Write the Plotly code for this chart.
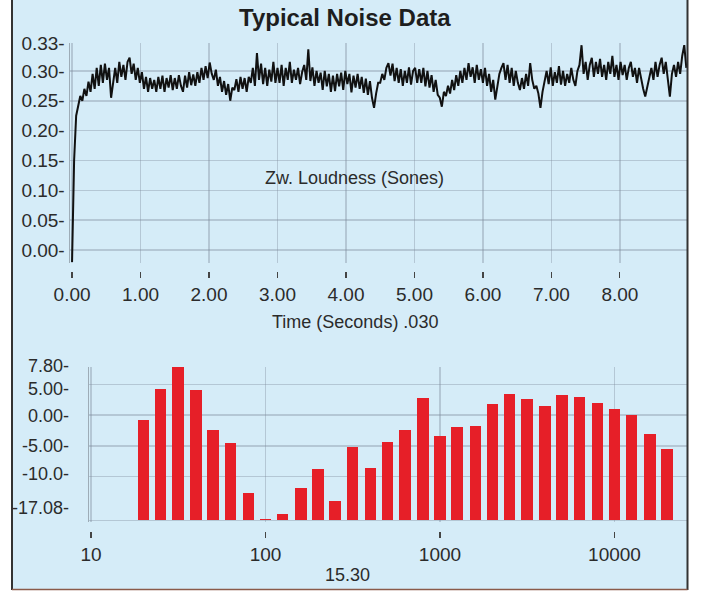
import numpy as np
import plotly.graph_objects as go

W, H = 703, 591

# ---------------- text ----------------
title_text = "Typical Noise Data"
top_inner_label = "Zw. Loudness (Sones)"
top_x_title = "Time (Seconds) .030"
bottom_x_title = "15.30"

# ---------------- top chart data (loudness in sones, one sample every .030 s) ----------------
sample_interval = 0.030
loudness = [
    -0.02, 0.15, 0.225, 0.24, 0.258, 0.25, 0.27, 0.258, 0.282, 0.265,
    0.295, 0.27, 0.305, 0.275, 0.31, 0.28, 0.312, 0.285, 0.305, 0.255,
    0.285, 0.305, 0.28, 0.315, 0.29, 0.31, 0.285, 0.315, 0.322, 0.295,
    0.312, 0.285, 0.305, 0.28, 0.298, 0.27, 0.29, 0.265, 0.288, 0.27,
    0.285, 0.265, 0.29, 0.27, 0.292, 0.265, 0.288, 0.272, 0.293, 0.268,
    0.288, 0.27, 0.293, 0.275, 0.265, 0.292, 0.272, 0.298, 0.276, 0.294,
    0.275, 0.298, 0.28, 0.305, 0.285, 0.308, 0.288, 0.314, 0.295, 0.285,
    0.302, 0.275, 0.29, 0.265, 0.283, 0.26, 0.278, 0.25, 0.272, 0.268,
    0.286, 0.265, 0.29, 0.27, 0.288, 0.265, 0.29, 0.28, 0.305, 0.275,
    0.33, 0.285, 0.312, 0.278, 0.305, 0.275, 0.302, 0.282, 0.315, 0.28,
    0.305, 0.28, 0.31, 0.275, 0.305, 0.285, 0.315, 0.28, 0.302, 0.285,
    0.305, 0.278, 0.298, 0.31, 0.285, 0.336, 0.283, 0.306, 0.275, 0.30,
    0.28, 0.297, 0.268, 0.30, 0.274, 0.295, 0.265, 0.292, 0.266, 0.295,
    0.274, 0.297, 0.268, 0.30, 0.278, 0.295, 0.264, 0.292, 0.272, 0.295,
    0.27, 0.29, 0.263, 0.287, 0.26, 0.283, 0.255, 0.238, 0.262, 0.28,
    0.28, 0.295, 0.285, 0.305, 0.313, 0.292, 0.312, 0.283, 0.305, 0.28,
    0.303, 0.275, 0.30, 0.28, 0.306, 0.277, 0.30, 0.305, 0.28, 0.303,
    0.28, 0.305, 0.274, 0.30, 0.272, 0.293, 0.265, 0.285, 0.26, 0.255,
    0.24, 0.265, 0.258, 0.275, 0.262, 0.285, 0.268, 0.293, 0.275, 0.30,
    0.28, 0.305, 0.285, 0.313, 0.29, 0.306, 0.28, 0.31, 0.285, 0.303,
    0.28, 0.305, 0.275, 0.295, 0.265, 0.285, 0.252, 0.275, 0.295, 0.305,
    0.313, 0.285, 0.31, 0.28, 0.305, 0.275, 0.30, 0.28, 0.268, 0.288,
    0.27, 0.295, 0.275, 0.313, 0.285, 0.27, 0.275, 0.262, 0.238, 0.265,
    0.285, 0.30, 0.278, 0.306, 0.275, 0.298, 0.28, 0.308, 0.277, 0.30,
    0.275, 0.295, 0.28, 0.305, 0.285, 0.275, 0.30, 0.31, 0.343, 0.295,
    0.315, 0.285, 0.31, 0.322, 0.29, 0.315, 0.295, 0.32, 0.29, 0.31,
    0.285, 0.315, 0.295, 0.325, 0.29, 0.31, 0.285, 0.315, 0.293, 0.31,
    0.285, 0.305, 0.315, 0.29, 0.305, 0.28, 0.305, 0.285, 0.27, 0.257,
    0.275, 0.29, 0.305, 0.285, 0.315, 0.29, 0.31, 0.322, 0.295, 0.315,
    0.28, 0.257, 0.295, 0.31, 0.29, 0.315, 0.295, 0.325, 0.343, 0.305,
]
time_s = np.arange(len(loudness)) * sample_interval

top_x_ticks = [0, 1, 2, 3, 4, 5, 6, 7, 8]
top_x_ticktext = ["0.00", "1.00", "2.00", "3.00", "4.00", "5.00", "6.00", "7.00", "8.00"]
top_y_ticks = [0.00, 0.05, 0.10, 0.15, 0.20, 0.25, 0.30]
top_y_ticktext = ["0.00-", "0.05-", "0.10-", "0.15-", "0.20-", "0.25-", "0.30-"]
top_y_max_label = "0.33-"

# ---------------- bottom chart data (1/3-octave band levels) ----------------
band_freqs = [20, 25, 31.5, 40, 50, 63, 80, 100, 125, 160, 200, 250, 315, 400, 500,
              630, 800, 1000, 1250, 1600, 2000, 2500, 3150, 4000, 5000, 6300, 8000,
              10000, 12500, 16000, 20000]
band_levels = [-0.82, 4.27, 7.80, 4.06, -2.44, -4.51, -12.64, -16.80, -16.10, -11.76,
               -8.83, -13.94, -5.26, -8.67, -4.35, -2.44, 2.81, -3.42, -1.91, -1.74,
               1.73, 3.41, 2.60, 1.51, 3.25, 2.87, 2.00, 0.97, -0.05, -3.09, -5.48]
level_min, level_max = -17.08, 7.80

bottom_y_ticks = [7.80, 5.00, 0.00, -5.00, -10.0, -17.08]
bottom_y_ticktext = ["7.80-", "5.00-", "0.00-", "-5.00-", "-10.0-", "-17.08-"]
bottom_x_ticks = [10, 100, 1000, 10000]
bottom_x_ticktext = ["10", "100", "1000", "10000"]

# ---------------- styling ----------------
FONT = "Liberation Sans, Arial, sans-serif"
TXT = "#2b2b2b"
PANEL = "#d5ecf8"
GRID = "rgba(125,140,155,0.38)"
RED = "#e61f28"
# small vertical nudges (px, + = down) reproducing where the original printed its y labels
bottom_label_nudge_px = [-1, 5, 1, 0, -3, -12]


def px_x(p):
    return p / W


def px_y(p):
    return 1 - p / H


top_y_range = [-0.0217, 0.3467]
bot_y_range = [level_min - 0.2, level_max]

fig = go.Figure()

fig.add_trace(go.Scatter(
    x=time_s, y=loudness, mode="lines",
    line=dict(color="#111111", width=2.0),
    xaxis="x", yaxis="y", hoverinfo="skip", showlegend=False,
))

fig.add_trace(go.Bar(
    x=np.log10(band_freqs), y=np.array(band_levels) - level_min, base=level_min,
    width=0.066, marker=dict(color=RED, line=dict(width=0)),
    xaxis="x2", yaxis="y2", showlegend=False, hoverinfo="skip",
))

tickfont = dict(family=FONT, size=19, color=TXT)

annotations = [
    dict(text="<b>" + title_text + "</b>", xref="paper", yref="paper",
         x=px_x(345), y=px_y(18), showarrow=False, xanchor="center", yanchor="middle",
         font=dict(family=FONT, size=24, color="#1e1e1e")),
    dict(text=top_inner_label, xref="paper", yref="paper",
         x=px_x(354), y=px_y(178), showarrow=False, xanchor="center", yanchor="middle",
         font=dict(family=FONT, size=18, color=TXT)),
    dict(text=top_x_title, xref="paper", yref="paper",
         x=px_x(355), y=px_y(322), showarrow=False, xanchor="center", yanchor="middle",
         font=dict(family=FONT, size=18, color=TXT)),
    dict(text=bottom_x_title, xref="paper", yref="paper",
         x=px_x(347), y=px_y(575), showarrow=False, xanchor="center", yanchor="middle",
         font=dict(family=FONT, size=18, color=TXT)),
]
for val, txt, nudge in zip(bottom_y_ticks, bottom_y_ticktext, bottom_label_nudge_px):
    annotations.append(dict(
        text=txt, xref="paper", yref="y2", x=px_x(70), y=val, yshift=-nudge,
        showarrow=False, xanchor="right", yanchor="middle", borderpad=0,
        font=dict(family=FONT, size=18, color=TXT),
    ))

fig.update_layout(
    width=W, height=H, autosize=False,
    margin=dict(l=0, r=0, t=0, b=0, pad=0),
    paper_bgcolor="white",
    plot_bgcolor="rgba(0,0,0,0)",
    font=dict(family=FONT, color=TXT),
    hovermode=False,
    xaxis=dict(
        domain=[px_x(70), px_x(687)], range=[-0.03, 8.98],
        anchor="free", position=px_y(271),
        tickvals=top_x_ticks, ticktext=top_x_ticktext, tickfont=tickfont,
        ticks="outside", ticklen=6, tickwidth=1.2, tickcolor="#444",
        showgrid=True, gridcolor=GRID, gridwidth=1.5,
        showline=False, zeroline=False, automargin=False,
    ),
    yaxis=dict(
        domain=[px_y(263), px_y(43)], range=top_y_range, anchor="x",
        tickvals=top_y_ticks + [top_y_range[1]],
        ticktext=top_y_ticktext + [top_y_max_label], tickfont=tickfont,
        ticks="",
        showgrid=True, gridcolor=GRID, gridwidth=1.5,
        showline=True, linecolor="rgba(120,130,140,0.6)", linewidth=1.5,
        zeroline=False, automargin=False,
    ),
    xaxis2=dict(
        domain=[px_x(89), px_x(687)], range=[0.9885, 4.4155],
        anchor="free", position=px_y(531),
        tickvals=np.log10(bottom_x_ticks), ticktext=bottom_x_ticktext, tickfont=tickfont,
        ticks="outside", ticklen=6, tickwidth=1.2, tickcolor="#444",
        showgrid=True, gridcolor=GRID, gridwidth=1.5,
        showline=False, zeroline=False, automargin=False,
    ),
    yaxis2=dict(
        domain=[px_y(521.5), px_y(367)], range=bot_y_range, anchor="x2",
        tickvals=bottom_y_ticks, showticklabels=False, ticks="",
        showgrid=True, gridcolor=GRID, gridwidth=1.5,
        showline=True, linecolor="rgba(120,130,140,0.6)", linewidth=1.5,
        zeroline=False, automargin=False,
    ),
    bargap=0,
    shapes=[
        dict(type="rect", xref="paper", yref="paper", layer="below",
             x0=px_x(12), x1=px_x(687), y0=px_y(589), y1=1.0,
             fillcolor=PANEL, line=dict(width=0)),
        dict(type="line", xref="paper", yref="paper", layer="above",
             x0=px_x(12), x1=px_x(12), y0=px_y(590), y1=1.0,
             line=dict(color="#333333", width=2)),
        dict(type="line", xref="paper", yref="paper", layer="above",
             x0=px_x(687.5), x1=px_x(687.5), y0=px_y(590), y1=1.0,
             line=dict(color="#333333", width=2)),
        dict(type="line", xref="paper", yref="paper", layer="above",
             x0=px_x(12), x1=px_x(687.5), y0=px_y(589.5), y1=px_y(589.5),
             line=dict(color="#8a5a4a", width=1.5)),
    ],
    annotations=annotations,
)

fig.write_html(
    "out.html",
    config={"responsive": False, "displayModeBar": False, "staticPlot": True},
    post_script="document.body.style.margin='0';document.body.style.padding='0';"
                "document.documentElement.style.overflow='hidden';",
)
